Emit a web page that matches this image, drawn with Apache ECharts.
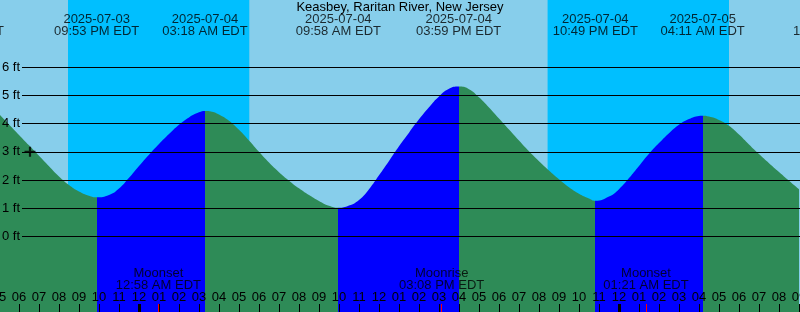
<!DOCTYPE html>
<html>
<head>
<meta charset="utf-8">
<script src="https://cdn.jsdelivr.net/npm/echarts@6/dist/echarts.min.js"></script>
<style>html,body{margin:0;padding:0;background:#87CEEB;}#c{width:800px;height:312px;}</style>
</head>
<body>
<div id="c"></div>
<script>
// ---- data (hours relative to 2025-07-04 00:00 EDT, heights in ft) ----
const tideHours = [-7, -6.5, -6, -5.5, -5, -4.5, -4, -3.5, -3, -2.5, -2.117, -1.5, -1, -0.5, 0, 0.5, 1, 1.5, 2, 2.5, 3, 3.3,
  3.65, 4, 4.5, 5, 5.5, 6, 6.5, 7, 7.5, 8, 8.5, 9, 9.5, 9.967, 10.5, 11, 11.5, 12, 12.5, 13, 13.5, 14, 14.5, 15, 15.5, 15.983,
  16.5, 17, 17.5, 18, 18.5, 19, 19.5, 20, 20.5, 21, 21.5, 22, 22.5, 22.817, 23.5, 24, 24.5, 25, 25.5, 26, 26.5, 27, 27.5, 28, 28.183,
  28.5, 29, 29.5, 30, 30.5, 31, 31.5, 32, 32.5, 33];
const tideFeet = [4.34, 3.97, 3.60, 3.23, 2.86, 2.49, 2.13, 1.83, 1.6, 1.45, 1.39, 1.47, 1.7, 2.08, 2.5, 2.9, 3.28, 3.63, 3.96, 4.22, 4.40, 4.45,
  4.42, 4.32, 4.1, 3.78, 3.40, 3.00, 2.62, 2.28, 1.98, 1.71, 1.47, 1.26, 1.09, 1.02, 1.1, 1.3, 1.68, 2.17, 2.68, 3.2, 3.68, 4.15, 4.58, 4.96, 5.23, 5.31,
  5.22, 4.93, 4.57, 4.18, 3.79, 3.40, 3.02, 2.67, 2.34, 2.03, 1.75, 1.52, 1.35, 1.27, 1.42, 1.68, 2.07, 2.5, 2.93, 3.31, 3.66, 3.96, 4.16, 4.27, 4.28,
  4.25, 4.13, 3.92, 3.61, 3.26, 2.92, 2.6, 2.29, 1.98, 1.68];

const eventHours = [-8.88, -2.117, 3.3, 9.967, 15.983, 22.817, 28.183, 34.83];
const eventDates = ['2025-07-03', '2025-07-03', '2025-07-04', '2025-07-04', '2025-07-04', '2025-07-04', '2025-07-05', '2025-07-05'];
const eventTimes = ['03:07 PM EDT', '09:53 PM EDT', '03:18 AM EDT', '09:58 AM EDT', '03:59 PM EDT', '10:49 PM EDT', '04:11 AM EDT', '10:50 AM EDT'];

// rising (flood) intervals: low -> high
const floodStart = [-2.117, 9.967, 22.817];
const floodEnd   = [3.3, 15.983, 28.183];

const nightStart = [-3.55, 20.43];
const nightEnd   = [5.515, 29.5];

const moonHours = [0.967, 15.133, 25.35];
const moonNames = ['Moonset', 'Moonrise', 'Moonset'];
const moonTimes = ['12:58 AM EDT', '03:08 PM EDT', '01:21 AM EDT'];

const midnightHours = [0, 24];
const clockLabels = ['12', '01', '02', '03', '04', '05', '06', '07', '08', '09', '10', '11'];
const ftTicks = [0, 1, 2, 3, 4, 5, 6];
const markerPoints = [[-5.45, 3.0]];

const title = 'Keasbey, Raritan River, New Jersey';

// ---- layout ----
const FONT = 'Liberation Sans';
const FT_PX = 28.25, ZERO_Y = 236.6, H = 312;
const yMin = -(H - ZERO_Y) / FT_PX, yMax = ZERO_Y / FT_PX;
const TOP_LABEL_FT = (ZERO_Y - 25.4) / FT_PX;
const MOON_LABEL_FT = (ZERO_Y - 279.3) / FT_PX;

const chart = echarts.init(document.getElementById('c'), null, {renderer: 'canvas'});

const xBase = {type: 'value', min: -7, max: 33, gridIndex: 0, position: 'bottom',
  splitLine: {show: false}, axisLine: {show: false, onZero: false}};

const option = {
  backgroundColor: '#87CEEB',
  animation: false,
  title: {text: title, left: 'center', top: 1, padding: 0,
          textStyle: {fontFamily: FONT, fontSize: 13, fontWeight: 'normal', color: '#000'}},
  grid: [
    {left: -1, right: 1, top: 0, bottom: 0, containLabel: false, outerBoundsMode: 'none'},
    {left: 22, right: 0, top: ZERO_Y - 6 * FT_PX, bottom: H - ZERO_Y, containLabel: false, outerBoundsMode: 'none'}
  ],
  xAxis: [
    Object.assign({}, xBase, {
      interval: 1, z: 10,
      axisTick: {show: true, inside: true, length: 8, lineStyle: {color: '#000', width: 1}},
      axisLabel: {show: true, inside: true, margin: 8, fontFamily: FONT, fontSize: 13, color: '#000',
        formatter: v => clockLabels[(((Math.round(v)) % 12) + 12) % 12]}
    }),
    Object.assign({}, xBase, {
      z: 11,
      axisTick: {show: true, inside: true, length: 8, customValues: midnightHours, lineStyle: {color: '#000', width: 3}},
      axisLabel: {show: false}
    }),
    Object.assign({}, xBase, {
      z: 12,
      axisTick: {show: true, inside: true, length: 8, customValues: moonHours, lineStyle: {color: '#FF0000', width: 1}},
      axisLabel: {show: false}
    }),
    {type: 'value', gridIndex: 1, show: false, min: -7, max: 33}
  ],
  yAxis: [
    {type: 'value', gridIndex: 0, min: yMin, max: yMax, show: false, splitLine: {show: false}},
    {type: 'value', gridIndex: 1, min: 0, max: 6, interval: 1, z: 10,
     axisLine: {show: false}, axisTick: {show: false},
     splitLine: {show: true, lineStyle: {color: '#000', width: 1}},
     axisLabel: {show: true, margin: 2, fontFamily: FONT, fontSize: 13, color: '#000',
       customValues: ftTicks, formatter: v => v + ' ft'}}
  ],
  visualMap: {
    type: 'piecewise', show: false, dimension: 0, seriesIndex: 0,
    pieces: floodStart.map((s, i) => ({gte: s, lt: floodEnd[i], color: '#0000FF'})),
    outOfRange: {color: '#2E8B57'}
  },
  series: [
    {
      type: 'line', xAxisIndex: 0, yAxisIndex: 0, z: 2,
      data: tideHours.map((h, i) => [h, tideFeet[i]]),
      smooth: 0.5, showSymbol: false, symbol: 'none',
      lineStyle: {width: 0},
      areaStyle: {origin: 'start', opacity: 1},
      markArea: {
        silent: true,
        itemStyle: {color: '#00BFFF', opacity: 1},
        data: nightStart.map((s, i) => [{xAxis: s}, {xAxis: nightEnd[i]}])
      }
    },
    {
      type: 'scatter', xAxisIndex: 0, yAxisIndex: 0, z: 5, clip: false,
      symbol: 'circle', symbolSize: 1, itemStyle: {color: 'rgba(0,0,0,0)'},
      data: eventHours.map((h, i) => ({value: [h, TOP_LABEL_FT], d: eventDates[i], t: eventTimes[i]})),
      label: {show: true, position: 'inside', fontFamily: FONT, fontSize: 13, color: '#000', lineHeight: 12,
        align: 'center', verticalAlign: 'middle',
        formatter: p => p.data.d + '\n' + p.data.t}
    },
    {
      type: 'scatter', xAxisIndex: 0, yAxisIndex: 0, z: 5, clip: false,
      symbol: 'circle', symbolSize: 1, itemStyle: {color: 'rgba(0,0,0,0)'},
      data: moonHours.map((h, i) => ({value: [h, MOON_LABEL_FT], n: moonNames[i], t: moonTimes[i]})),
      label: {show: true, position: 'inside', fontFamily: FONT, fontSize: 13, color: '#000', lineHeight: 12,
        align: 'center', verticalAlign: 'middle',
        formatter: p => p.data.n + '\n' + p.data.t}
    },
    {
      type: 'scatter', xAxisIndex: 0, yAxisIndex: 0, z: 6,
      symbol: 'path://M4,0h2v4h4v2h-4v4h-2v-4h-4v-2h4z', symbolSize: [11, 10],
      itemStyle: {color: '#000'},
      data: markerPoints
    }
  ]
};
chart.setOption(option);
</script>
</body>
</html>
